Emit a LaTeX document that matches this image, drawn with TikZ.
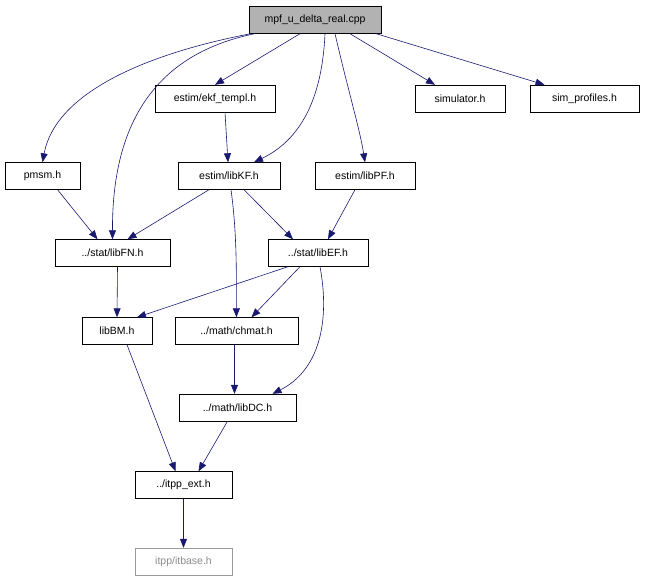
\documentclass[tikz,border=0pt]{standalone}
\usepackage{fontspec}
\setmainfont{Liberation Sans}
\usetikzlibrary{arrows.meta}
\definecolor{edge}{HTML}{191970}
\begin{document}
\begin{tikzpicture}[x=1pt,y=-1pt,
  box/.style={draw=black,fill=white,inner sep=0pt,font=\fontsize{10.5}{12}\selectfont,minimum height=27pt},
  e/.style={draw=edge,-{Triangle[length=9pt,width=7pt]},fill=none,line width=0.6pt}]
\useasboundingbox (0,0) rectangle (645,581);
\node[box,fill=black!30,minimum width=132pt] (cpp) at (315,20) {mpf\_u\_delta\_real.cpp};
\node[box,minimum width=120pt] (ekf) at (215,98.5) {estim/ekf\_templ.h};
\node[box,minimum width=90pt] (sim) at (460,98.5) {simulator.h};
\node[box,minimum width=109pt] (simp) at (584.5,98.5) {sim\_profiles.h};
\node[box,minimum width=75pt] (pmsm) at (42.5,176) {pmsm.h};
\node[box,minimum width=102pt] (kf) at (229,176) {estim/libKF.h};
\node[box,minimum width=100pt] (pf) at (365,176) {estim/libPF.h};
\node[box,minimum width=115pt] (fn) at (112.5,253) {../stat/libFN.h};
\node[box,minimum width=100pt] (ef) at (318,253) {../stat/libEF.h};
\node[box,minimum width=70pt] (bm) at (117,331) {libBM.h};
\node[box,minimum width=123pt] (ch) at (236.5,331) {../math/chmat.h};
\node[box,minimum width=117pt] (dc) at (237.5,407.5) {../math/libDC.h};
\node[box,minimum width=97pt] (ext) at (183.5,485) {../itpp\_ext.h};
\node[box,draw=black!40,text=black!45,minimum width=97pt] (itb) at (183.5,561.5) {itpp/itbase.h};

\draw[e] (cpp.south west)+(2,0) .. controls (140,55) and (55,95) .. (pmsm.north);
\draw[e] ([xshift=6pt]cpp.south west) .. controls (150,55) and (112,130) .. (fn.north);
\draw[e] ([xshift=-15pt]cpp.south) -- (ekf.north);
\draw[e] ([xshift=10pt]cpp.south) .. controls (322,100) and (300,140) .. ([xshift=25pt]kf.north);
\draw[e] ([xshift=20pt]cpp.south) .. controls (348,90) and (360,130) .. (pf.north);
\draw[e] ([xshift=35pt]cpp.south) -- ([xshift=-25pt]sim.north);
\draw[e] ([xshift=-5pt]cpp.south east) -- ([xshift=-40pt]simp.north);
\draw[e] ([xshift=10pt]ekf.south) -- ([xshift=-1pt]kf.north);
\draw[e] ([xshift=15pt]pmsm.south) -- ([xshift=-15pt]fn.north);
\draw[e] ([xshift=-20pt]kf.south) -- ([xshift=15pt]fn.north);
\draw[e] ([xshift=15pt]kf.south) -- ([xshift=-25pt]ef.north);
\draw[e] ([xshift=2pt]kf.south) .. controls (238,240) and (236,290) .. (ch.north);
\draw[e] ([xshift=-10pt]pf.south) -- ([xshift=10pt]ef.north);
\draw[e] ([xshift=5pt]fn.south) -- (bm.north);
\draw[e] ([xshift=-30pt]ef.south) -- ([xshift=20pt]bm.north);
\draw[e] ([xshift=-18pt]ef.south) -- ([xshift=15pt]ch.north);
\draw[e] ([xshift=2pt]ef.south) .. controls (330,320) and (320,370) .. ([xshift=35pt]dc.north);
\draw[e] ([xshift=-2pt]ch.south) -- ([xshift=-3pt]dc.north);
\draw[e] ([xshift=10pt]bm.south) -- ([xshift=-8pt]ext.north);
\draw[e] ([xshift=-10pt]dc.south) -- ([xshift=15pt]ext.north);
\draw[e] (ext.south) -- (itb.north);
\end{tikzpicture}
\end{document}
